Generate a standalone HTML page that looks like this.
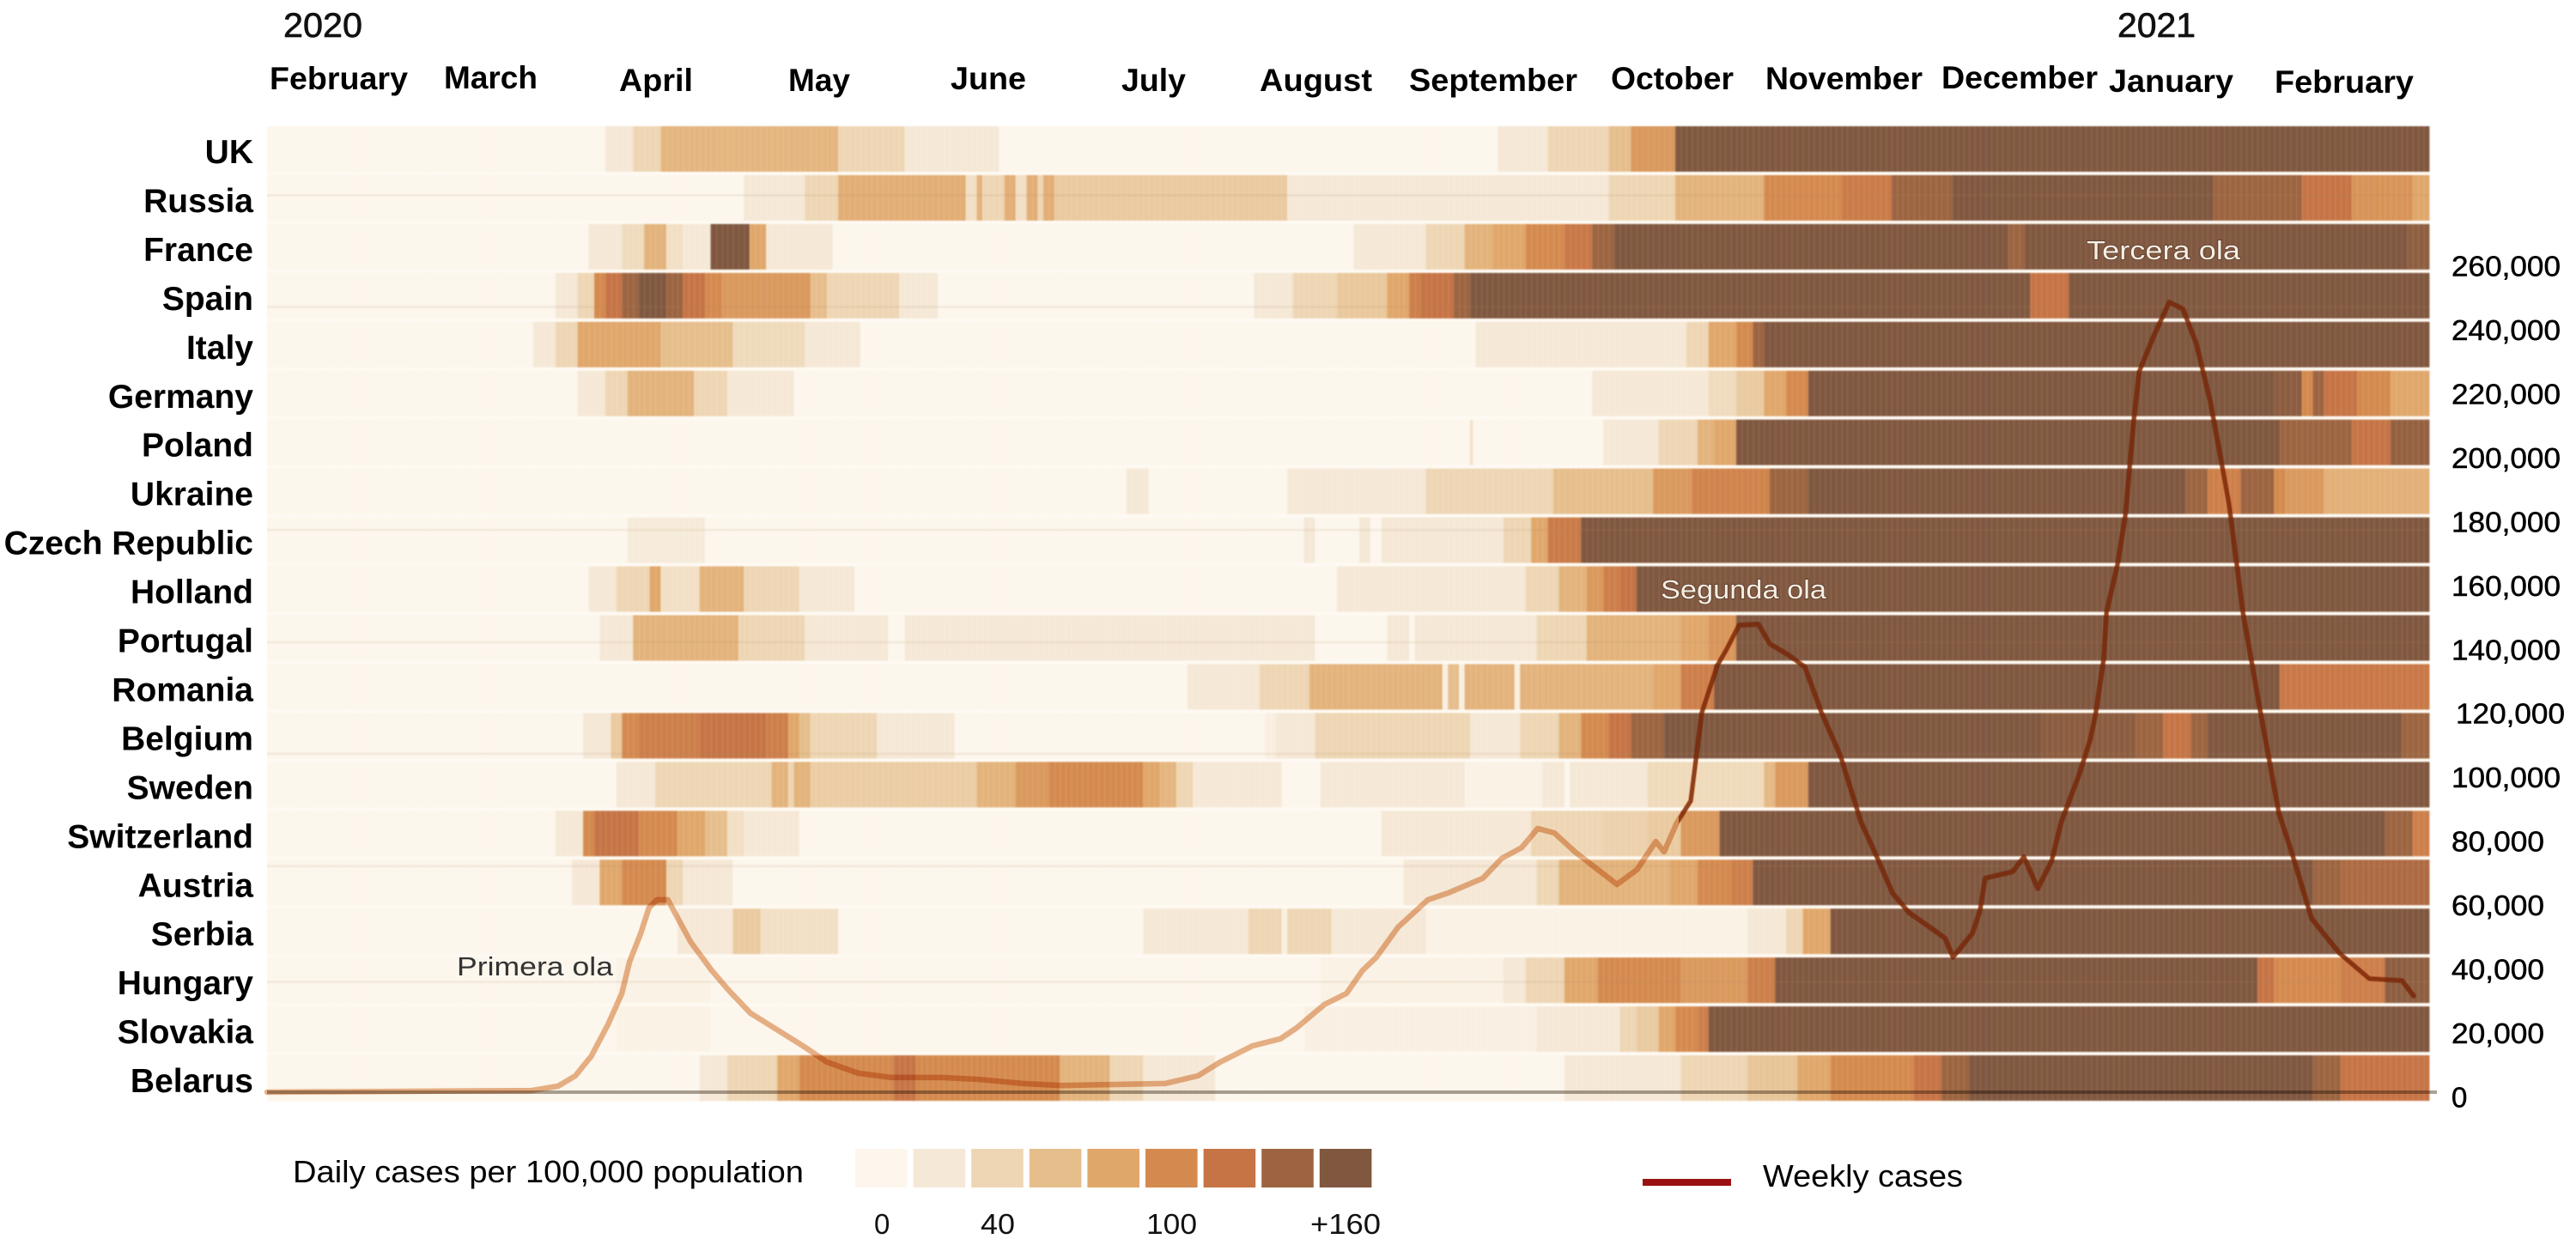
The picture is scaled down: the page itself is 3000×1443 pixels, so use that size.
<!DOCTYPE html>
<html lang="en">
<head>
<meta charset="utf-8">
<title>COVID-19 daily cases heatmap and weekly cases</title>
<style>
html,body{margin:0;padding:0;background:#fff;width:3000px;height:1443px;overflow:hidden}
svg{display:block}
text{font-family:"Liberation Sans",sans-serif}
.month{font-size:37px;font-weight:700;fill:#000}
.country{font-size:39px;font-weight:700;fill:#000;text-anchor:end}
.year{font-size:40px;fill:#111;stroke:#111;stroke-width:.7px}
.ytick{font-size:33px;fill:#000;stroke:#000;stroke-width:.5px}
.legend{font-size:36px;fill:#000}
.legtick{font-size:33px;fill:#111}
.wave{font-size:31px}
</style>
</head>
<body>
<svg id="chart" xmlns="http://www.w3.org/2000/svg" width="3000" height="1443" viewBox="0 0 3000 1443">
  <defs>
    <pattern id="dayStripes" patternUnits="userSpaceOnUse" x="311" y="0" width="6.456" height="10">
      <rect x="0" y="0" width="1.5" height="10" fill="#fff" opacity="0.09"></rect>
    </pattern>
    <clipPath id="darkZone"><rect x="1955" y="0" width="880" height="1300"></rect></clipPath>
  </defs>

  <rect x="311" y="147" width="2518" height="1136" fill="#fefaf3"></rect>
  <g id="heat" style="filter:blur(0.8px)"></g>
  <g id="faint"></g>
  <line id="baseline" x1="311" x2="2838" y1="1272" y2="1272" stroke="#6f6558" stroke-opacity="0.6" stroke-width="4" style="mix-blend-mode:multiply"></line>
  <path id="weekly" fill="none" stroke="#e8b48c" stroke-width="6.5" stroke-linejoin="round" stroke-linecap="round" style="mix-blend-mode:multiply"></path>
  <path id="weeklyDark" fill="none" stroke="#7a2a0c" stroke-width="4.5" stroke-opacity="0.8" stroke-linejoin="round" stroke-linecap="round" clip-path="url(#darkZone)"></path>

  <g id="countryLabels"></g>
  <g id="yTicks"></g>

  <text class="year" x="330" y="43" textLength="92" lengthAdjust="spacingAndGlyphs">2020</text>
  <text class="year" x="2466" y="43" textLength="91" lengthAdjust="spacingAndGlyphs">2021</text>

  <g>
    <text class="month" x="314" y="104" textLength="161" lengthAdjust="spacingAndGlyphs">February</text>
    <text class="month" x="517" y="103" textLength="109" lengthAdjust="spacingAndGlyphs">March</text>
    <text class="month" x="721" y="106" textLength="86" lengthAdjust="spacingAndGlyphs">April</text>
    <text class="month" x="918" y="106" textLength="72" lengthAdjust="spacingAndGlyphs">May</text>
    <text class="month" x="1107" y="104" textLength="88" lengthAdjust="spacingAndGlyphs">June</text>
    <text class="month" x="1306" y="106" textLength="75" lengthAdjust="spacingAndGlyphs">July</text>
    <text class="month" x="1467" y="106" textLength="131" lengthAdjust="spacingAndGlyphs">August</text>
    <text class="month" x="1641" y="106" textLength="196" lengthAdjust="spacingAndGlyphs">September</text>
    <text class="month" x="1876" y="104" textLength="143" lengthAdjust="spacingAndGlyphs">October</text>
    <text class="month" x="2056" y="104" textLength="183" lengthAdjust="spacingAndGlyphs">November</text>
    <text class="month" x="2261" y="103" textLength="182" lengthAdjust="spacingAndGlyphs">December</text>
    <text class="month" x="2456" y="107" textLength="145" lengthAdjust="spacingAndGlyphs">January</text>
    <text class="month" x="2649" y="108" textLength="162" lengthAdjust="spacingAndGlyphs">February</text>
  </g>

  <text class="wave" x="532" y="1136" fill="#333" textLength="182" lengthAdjust="spacingAndGlyphs">Primera ola</text>
  <text class="wave" x="1934" y="697" fill="#f6eee4" textLength="193" lengthAdjust="spacingAndGlyphs" style="paint-order:stroke;stroke:#5a3a28;stroke-width:1.5px">Segunda ola</text>
  <text class="wave" x="2430" y="302" fill="#f6eee4" textLength="179" lengthAdjust="spacingAndGlyphs" style="paint-order:stroke;stroke:#5a3a28;stroke-width:1.5px">Tercera ola</text>

  <text class="legend" x="341" y="1377" textLength="595" lengthAdjust="spacingAndGlyphs">Daily cases per 100,000 population</text>
  <g id="legendSwatches"></g>
  <text class="legtick" x="1018" y="1437">0</text>
  <text class="legtick" x="1142" y="1437" textLength="40" lengthAdjust="spacingAndGlyphs">40</text>
  <text class="legtick" x="1335" y="1437" textLength="59" lengthAdjust="spacingAndGlyphs">100</text>
  <text class="legtick" x="1526" y="1437" textLength="82" lengthAdjust="spacingAndGlyphs">+160</text>

  <rect x="1913" y="1373" width="103" height="8" fill="#9b1111"></rect>
  <text class="legend" x="2053" y="1382" textLength="233" lengthAdjust="spacingAndGlyphs">Weekly cases</text>
</svg>

<script>
// Heatmap data: each entry is [start day since 1 Feb 2020, colour bin 0-8]
const runsUK=[[0,0],[61,1],[66,2],[71,3.4],[103,2],[115,1],[132,0],[222,1],[231,2],[242,3],[246,4.5],[254,8]];
const runsRussia=[[0,0],[86,1],[97,2],[103,3.7],[126,1.5],[128,3.5],[129,2],[133,3.7],[135,1.5],[137,3.7],[139,2],[140,3.7],[142,2.5],[184,1],[242,2],[254,3.5],[270,5],[284,5.7],[293,7],[304,8],[351,7],[367,6],[376,4.7],[387,4]];
const runsFrance=[[0,0],[58,1],[64,1.7],[68,3.5],[72,1.5],[75,1],[80,8],[87,4],[90,1],[102,0],[196,1],[209,2],[216,3.5],[221,4],[227,5],[234,5.8],[239,7],[243,8],[314,7],[317,8],[386,7.5]];
const runsSpain=[[0,0],[52,1],[56,2],[59,5],[61,6],[64,7],[67,8],[72,7],[75,6],[79,5],[82,4.5],[98,3],[101,2],[114,1],[121,0],[178,1],[185,2],[193,2.6],[202,4],[206,5.5],[208,6],[214,7],[217,8],[318,6],[325,8]];
const runsItaly=[[0,0],[48,1],[52,2],[56,4],[71,3],[84,1.8],[97,1],[107,0],[218,1],[256,2],[260,4],[265,5],[268,7],[270,8]];
const runsGermany=[[0,0],[56,1],[61,2],[65,3.5],[77,2],[83,1],[95,0],[239,1],[260,1.7],[265,2.5],[270,4],[274,5],[278,8],[362,7.6],[367,5],[369,7],[371,6],[377,5],[383,4]];
const runsPoland=[[0,0],[217,1.5],[217.5,0],[241,1],[251,2],[258,3.5],[261,4],[265,8],[363,7],[376,6],[383,7.3]];
const runsUkraine=[[0,0],[155,1],[159,0],[184,1],[209,2],[232,3],[250,4.5],[257,5.3],[271,7],[278,8],[346,7],[350,5.5],[356,7],[362,5],[364,4.5],[371,3.6]];
const runsCzech=[[0,0],[65,0.8],[79,0],[187,1],[189,0],[197,1],[199,0],[201,1],[223,2],[228,4],[231,5.7],[237,8]];
const runsHolland=[[0,0],[58,1],[63,2],[69,4],[71,1.5],[78,3.5],[86,2],[96,1],[106,0],[193,1],[227,2],[233,3.5],[238,4.5],[241,5.5],[244,6],[247,8]];
const runsPortugal=[[0,0],[60,1],[66,3.5],[85,2],[97,1],[112,0],[115,1],[189,0],[202,1],[206,0],[207,1],[229,2],[238,3.5],[255,4],[260,4.6],[265,8]];
const runsRomania=[[0,0],[166,1],[179,2],[188,3.5],[212,0.5],[213,3],[215,0.5],[216,3.5],[225,0.5],[226,3.5],[250,4],[255,5.5],[261,8],[363,5.8]];
const runsBelgium=[[0,0],[57,1],[62,2.5],[64,5],[67,5.5],[78,6],[90,5.5],[94,4],[96,3],[98,2],[110,1],[124,0],[180,0.5],[182,1],[189,2],[217,1],[226,2],[233,3.5],[237,5],[242,6],[246,7],[252,8],[320,7.6],[337,7],[342,6],[347,7],[350,8],[385,7]];
const runsSweden=[[0,0],[63,1],[70,2],[91,3.5],[94,2],[95,3.5],[98,2.4],[128,3.5],[135,4.5],[141,5],[158,4],[161,3.4],[164,2],[167,1],[183,0],[190,1],[216,0.3],[230,1],[234,0],[235,1],[249,1.8],[270,3.2],[272,4.5],[278,8]];
const runsSwitzerland=[[0,0],[52,1],[57,5],[59,6],[67,5],[74,4],[79,3],[83,1.5],[86,1],[96,0],[201,1],[228,2],[241,2.2],[249,2.5],[255,4.5],[262,8],[382,7],[387,5.5]];
const runsAustria=[[0,0],[55,1],[60,4],[64,5],[72,2],[75,1],[84,0],[205,1],[229,2],[233,3.5],[253,4],[258,5],[264,5.5],[268,8],[369,7],[374,6.6]];
const runsSerbia=[[0,0],[74,1],[84,2.5],[89,1.5],[103,0],[158,1],[177,2],[183,0.5],[184,2],[192,1],[209,0.3],[267,1],[274,2],[277,4],[282,8]];
const runsHungary=[[0,0],[63,0.3],[80,0],[190,0.3],[223,1],[227,2],[234,4],[240,5],[255,4.5],[267,5.5],[272,8],[359,6],[362,5],[374,5.5],[382,7.5]];
const runsSlovakia=[[0,0],[63,0.3],[80,0],[187,0.4],[229,1],[244,2],[247,2.5],[251,4],[254,5],[258,5.5],[260,8]];
const runsBelarus=[[0,0],[78,1],[83,2],[92,4],[96,5],[113,6],[117,5],[143,3.5],[152,2],[158,1],[171,0],[234,1],[255,2],[267,2.7],[276,4],[282,5],[297,6],[302,7],[307,8],[369,7],[374,6]];

const countries=['UK','Russia','France','Spain','Italy','Germany','Poland','Ukraine','Czech Republic','Holland','Portugal','Romania','Belgium','Sweden','Switzerland','Austria','Serbia','Hungary','Slovakia','Belarus'];
const heatRows=[runsUK,runsRussia,runsFrance,runsSpain,runsItaly,runsGermany,runsPoland,runsUkraine,runsCzech,runsHolland,runsPortugal,runsRomania,runsBelgium,runsSweden,runsSwitzerland,runsAustria,runsSerbia,runsHungary,runsSlovakia,runsBelarus];

// Weekly cases line
const weeklyDays=[0,47.7,52.5,55.6,58.5,61.5,64,65.4,67.4,68.9,70.3,72.3,73.9,76.4,80.2,83.2,87.2,92.2,97.1,101,106.7,112.6,121.6,128.4,136.3,143.3,152.1,162,167.9,171.9,177.8,182.8,185.7,190.7,194.7,197.6,200.1,204,209.4,213,219.3,222.7,226.3,229.2,232.2,236.1,243.5,247.1,250.5,252,254.3,256.8,258.8,261.6,263.2,265.5,269,271.1,274.5,277.4,280.4,283.8,287.5,290.3,293.2,296.2,300.6,302.7,304.1,307.6,309,309.9,314.9,316.9,319.4,321.9,323.6,326.8,328.8,329.8,331.3,331.8,333.8,335.2,336.7,337.7,340.2,343.1,345.6,348,350.5,352.5,353.9,356.4,359.4,362.9,365.4,368.8,373.8,379.2,385.1,387.2];
const weeklyCases=[0,500,1900,5100,11300,21200,30900,40800,49700,57700,60200,60200,55100,47000,38100,32000,24700,19300,14000,9400,5900,4600,4600,4000,2700,2100,2400,2700,5100,9400,14500,16700,20100,27400,30900,38100,42200,51600,60200,62300,66900,73100,76500,82500,81100,74900,65000,69600,78400,75200,84300,91100,118700,133500,138300,146100,146400,140200,136700,133000,118700,105300,84600,73900,62300,56100,50800,48100,42200,49700,56900,66900,69000,73600,63700,72300,84300,99100,109900,117900,135600,150100,165200,180500,210000,225400,236100,247100,245000,234200,216200,197400,184000,150100,120600,87300,73900,54300,43500,35500,34900,30100];
const yTickValues=[0,20000,40000,60000,80000,100000,120000,140000,160000,180000,200000,220000,240000,260000];

const SVGNS='http://www.w3.org/2000/svg';
const palette=['#fcf6ec','#f5e8d6','#eed6b4','#e6be8c','#e0a76b','#d48a4e','#c67445','#9c6440','#80573f'];
const totalDays=390;
function xScale(day){return 311+day*(2829-311)/totalDays;}
function yScale(v){return 1272-v*74.46/20000;}
function rowTop(i){return 147+i*56.95;}
const rowH=53;
function hex(c){return [parseInt(c.slice(1,3),16),parseInt(c.slice(3,5),16),parseInt(c.slice(5,7),16)];}
function levelColor(l){
  const a=Math.floor(l),b=Math.min(8,a+1),t=l-a,ca=hex(palette[a]),cb=hex(palette[b]);
  return 'rgb('+ca.map(function(v,k){return Math.round(v+(cb[k]-v)*t);}).join(',')+')';
}

const heat=document.getElementById('heat');
heatRows.forEach(function(runs,i){
  const slug=countries[i].toLowerCase().replace(/ /g,'-');
  const g=document.createElementNS(SVGNS,'g');
  
  
  runs.forEach(function(run,j){
    const end=j+1<runs.length?runs[j+1][0]:totalDays;
    const r=document.createElementNS(SVGNS,'rect');
    r.setAttribute('x',xScale(run[0]));
    r.setAttribute('y',rowTop(i));
    r.setAttribute('width',xScale(end)-xScale(run[0])+0.4);
    r.setAttribute('height',rowH);
    r.setAttribute('fill',levelColor(run[1]));
    
    
    g.appendChild(r);
  });
  const stripes=document.createElementNS(SVGNS,'rect');
  stripes.setAttribute('x',xScale(0));
  stripes.setAttribute('y',rowTop(i));
  stripes.setAttribute('width',xScale(totalDays)-xScale(0));
  stripes.setAttribute('height',rowH);
  stripes.setAttribute('fill','url(#dayStripes)');
  
  
  g.appendChild(stripes);
  heat.appendChild(g);

  const t=document.createElementNS(SVGNS,'text');
  t.setAttribute('class','country');
  t.setAttribute('x',295);
  t.setAttribute('y',rowTop(i)+43);
  
  
  t.textContent=countries[i];
  document.getElementById('countryLabels').appendChild(t);
});

// Faint scan lines crossing some rows
[1,3,8,10,12,15,17].forEach(function(rowIndex){
  const l=document.createElementNS(SVGNS,'rect');
  l.setAttribute('x',311);
  l.setAttribute('y',rowTop(rowIndex)+(rowIndex===15?6:rowIndex===12?46:rowIndex===8?13:rowIndex===17?27:rowIndex===10?30:rowIndex===3?38:22));
  l.setAttribute('width',2518);
  l.setAttribute('height',3);
  l.setAttribute('fill','#b48c64');
  l.setAttribute('opacity','0.1');
  
  
  document.getElementById('faint').appendChild(l);
});

// Weekly line
const d=weeklyDays.map(function(day,k){
  return (k?'L':'M')+xScale(day).toFixed(1)+' '+yScale(weeklyCases[k]).toFixed(1);
}).join(' ');
document.getElementById('weekly').setAttribute('d',d);
document.getElementById('weeklyDark').setAttribute('d',d);

// Y ticks
yTickValues.forEach(function(v){
  const t=document.createElementNS(SVGNS,'text');
  t.setAttribute('class','ytick');
  t.setAttribute('x',v===120000?2860:2855);
  t.setAttribute('y',yScale(v)+17.5);
  
  
  const label=v.toLocaleString('en-US');
  if(v>=100000){t.setAttribute('textLength',127);t.setAttribute('lengthAdjust','spacingAndGlyphs');}
  else if(v>0){t.setAttribute('textLength',108);t.setAttribute('lengthAdjust','spacingAndGlyphs');}
  t.textContent=label;
  document.getElementById('yTicks').appendChild(t);
});

// Colour legend swatches
palette.forEach(function(c,i){
  const r=document.createElementNS(SVGNS,'rect');
  r.setAttribute('x',996+i*67.6);
  r.setAttribute('y',1338);
  r.setAttribute('width',60.6);
  r.setAttribute('height',45);
  r.setAttribute('fill',c);
  
  
  document.getElementById('legendSwatches').appendChild(r);
});
</script>
</body>
</html>
